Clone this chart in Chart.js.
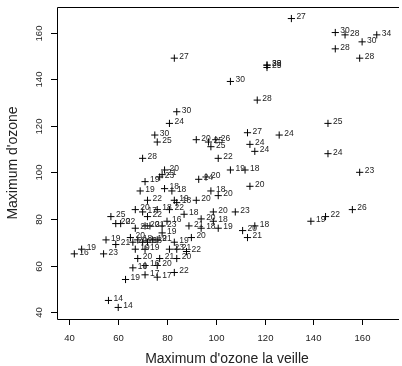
<!DOCTYPE html>
<html>
<head>
<meta charset="utf-8">
<script src="https://cdn.jsdelivr.net/npm/chart.js@4.4.1/dist/chart.umd.min.js"></script>
<style>
  html, body { margin: 0; padding: 0; background: #fff; }
  #wrap { width: 402px; height: 366px; }
</style>
</head>
<body>
<div id="wrap"><canvas id="chart-ozone" width="402" height="366"></canvas></div>
<script>
/* ozone: max of the day vs max of the previous day, labelled with T12 */
const maxO3v = [
  83, 84, 131, 149, 153, 166, 160, 149, 159, 121,
  121, 121, 106, 117, 81, 75, 76, 70, 79, 77,
  78, 71, 69, 79, 82, 72, 83, 84, 92, 93,
  96, 92, 97, 100, 98, 113, 126, 146, 146, 114,
  116, 101, 106, 112, 159, 114, 98, 101, 99, 108,
  156, 145, 139, 94, 99, 101, 111, 116, 113, 57,
  59, 61, 67, 70, 76, 81, 72, 87, 67, 71,
  73, 80, 78, 78, 89, 94, 90, 83, 55, 59,
  45, 42, 54, 65, 66, 68, 70, 72, 74, 76,
  67, 71, 81, 84, 88, 68, 77, 84, 66, 71,
  76, 83, 63, 71, 76, 56, 60
];
const maxO3 = [
  149, 126, 166, 160, 159, 159, 156, 153, 149, 145,
  146, 146, 139, 131, 121, 116, 113, 106, 101, 98,
  99, 96, 92, 93, 92, 88, 88, 87, 88, 97,
  98, 114, 113, 114, 111, 117, 116, 121, 108, 112,
  109, 106, 101, 101, 100, 94, 92, 90, 83, 83,
  84, 81, 79, 80, 79, 76, 75, 77, 72, 81,
  78, 78, 84, 83, 84, 84, 81, 82, 76, 77,
  77, 79, 77, 74, 77, 76, 72, 70, 71, 69,
  67, 65, 65, 72, 70, 71, 70, 70, 71, 71,
  67, 67, 67, 67, 66, 63, 63, 63, 59, 60,
  60, 57, 54, 56, 55, 45, 42
];
const t12 = [
  '27', '30', '27', '30', '28', '34', '30', '28', '28', '25',
  '29', '33', '30', '28', '24', '30', '25', '28', '20', '23',
  '21', '19', '19', '18', '18', '22', '19', '18', '20', '24',
  '20', '20', '25', '26', '25', '27', '24', '25', '24', '24',
  '24', '22', '19', '18', '23', '20', '18', '20', '20', '23',
  '26', '22', '19', '20', '18', '19', '20', '18', '21', '25',
  '20', '22', '20', '17', '18', '22', '22', '18', '21', '20',
  '21', '16', '23', '19', '21', '18', '20', '19', '19', '21',
  '19', '16', '23', '20', '20', '18', '18', '18', '19', '21',
  '19', '19', '23', '21', '22', '20', '21', '20', '18', '16',
  '20', '22', '19', '17', '17', '14', '14'
];
const xTicks = [40, 60, 80, 100, 120, 140, 160];
const yTicks = [40, 60, 80, 100, 120, 140, 160];
const xTitle = 'Maximum d\'ozone la veille';
const yTitle = 'Maximum d\'ozone';

const FONT = '"Liberation Sans", Arial, Helvetica, sans-serif';

const points = maxO3v.map((x, i) => ({ x: x, y: maxO3[i] }));

// text labels next to each cross
const pointLabels = {
  id: 'pointLabels',
  afterDatasetsDraw(chart) {
    const ctx = chart.ctx;
    const meta = chart.getDatasetMeta(0);
    ctx.save();
    ctx.font = '8.5px ' + FONT;
    ctx.fillStyle = '#222';
    ctx.textBaseline = 'middle';
    ctx.textAlign = 'left';
    meta.data.forEach((pt, i) => {
      ctx.fillText(t12[i], pt.x + 5, pt.y - 1.5);
    });
    ctx.restore();
  }
};

// R-like frame (the right side runs off the picture), ticks and labels
const rAxes = {
  id: 'rAxes',
  afterDraw(chart) {
    const ctx = chart.ctx;
    const a = chart.chartArea;
    const sx = chart.scales.x, sy = chart.scales.y;
    ctx.save();
    ctx.strokeStyle = '#000';
    ctx.lineWidth = 1;
    ctx.beginPath();
    ctx.moveTo(a.right + 2, a.top + 0.5);
    ctx.lineTo(a.left + 0.5, a.top + 0.5);
    ctx.lineTo(a.left + 0.5, a.bottom + 0.5);
    ctx.lineTo(a.right + 2, a.bottom + 0.5);
    ctx.stroke();

    ctx.fillStyle = '#222';
    ctx.font = '9.5px ' + FONT;
    ctx.textAlign = 'center';
    ctx.textBaseline = 'middle';
    xTicks.forEach(v => {
      const px = Math.round(sx.getPixelForValue(v)) + 0.5;
      ctx.beginPath();
      ctx.moveTo(px, a.bottom);
      ctx.lineTo(px, a.bottom + 6);
      ctx.stroke();
      ctx.fillText(String(v), px, a.bottom + 19);
    });
    yTicks.forEach(v => {
      const py = Math.round(sy.getPixelForValue(v)) + 0.5;
      ctx.beginPath();
      ctx.moveTo(a.left, py);
      ctx.lineTo(a.left - 6, py);
      ctx.stroke();
      ctx.save();
      ctx.translate(a.left - 18, py);
      ctx.rotate(-Math.PI / 2);
      ctx.fillText(String(v), 0, 0);
      ctx.restore();
    });

    ctx.font = '14px ' + FONT;
    ctx.fillText(xTitle, (a.left + a.right) / 2, 359);
    ctx.save();
    ctx.translate(13, (a.top + a.bottom) / 2);
    ctx.rotate(-Math.PI / 2);
    ctx.fillText(yTitle, 0, 0);
    ctx.restore();
    ctx.restore();
  }
};

new Chart(document.getElementById('chart-ozone'), {
  type: 'scatter',
  data: {
    datasets: [{
      data: points,
      pointStyle: 'cross',
      radius: 3.6,
      borderColor: '#000',
      borderWidth: 1,
      backgroundColor: '#000',
    }]
  },
  options: {
    responsive: false,
    animation: false,
    events: [],
    layout: { padding: { left: 57, right: 0, top: 7, bottom: 47 } },
    plugins: { legend: { display: false }, tooltip: { enabled: false } },
    scales: {
      x: { type: 'linear', display: false, min: 34.9, max: 174.3 },
      y: { type: 'linear', display: false, min: 37.04, max: 170.96 }
    }
  },
  plugins: [pointLabels, rAxes]
});
</script>
</body>
</html>
